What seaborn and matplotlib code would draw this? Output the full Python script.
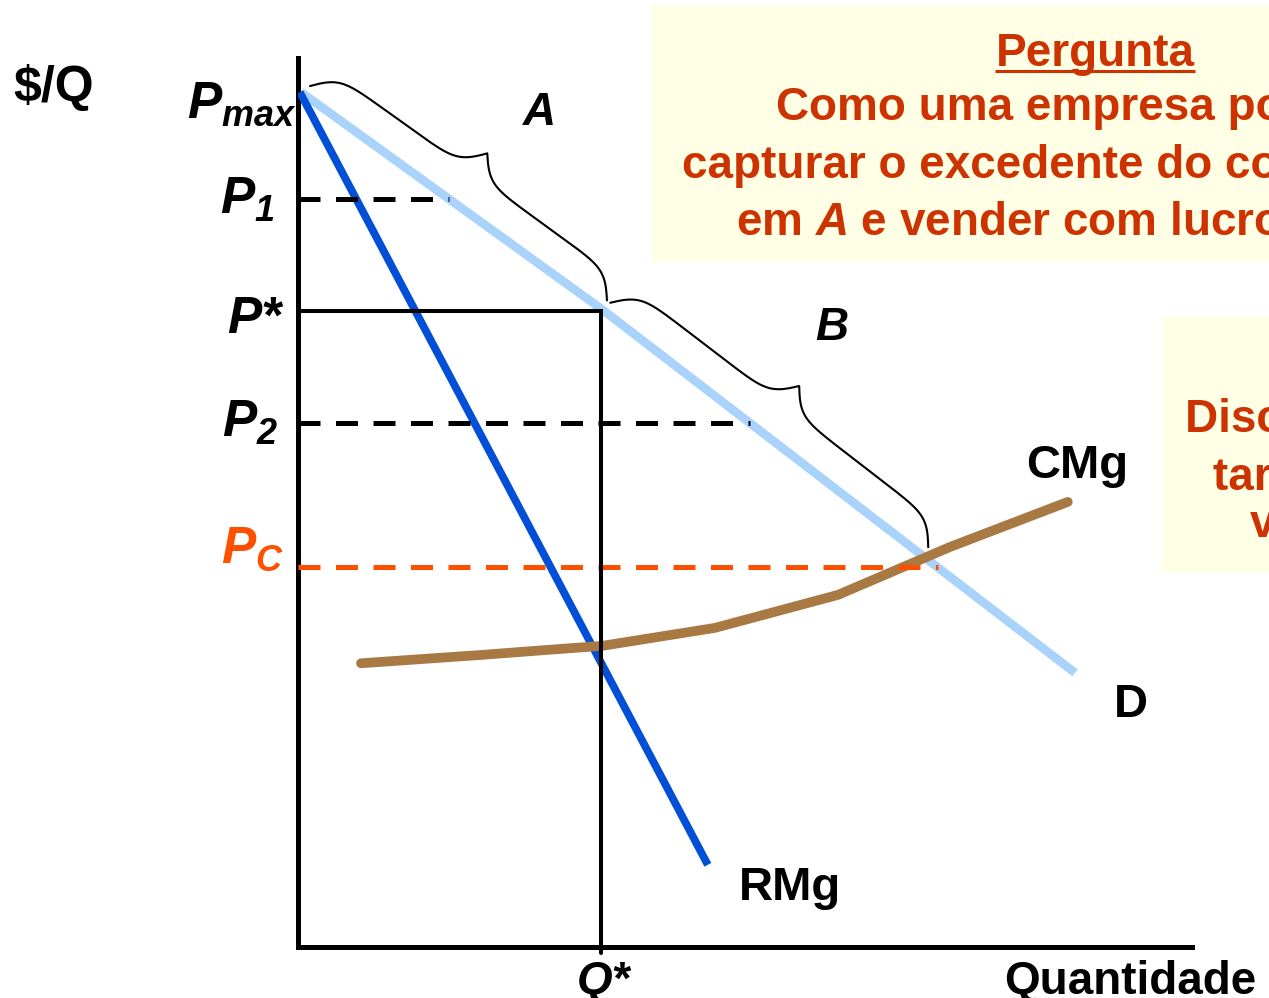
import numpy as np
import matplotlib.pyplot as plt
import seaborn as sns
from matplotlib.patches import Rectangle

# Curvas (quantidade, preço)
Q_DEMANDA = [0.05, 5.08, 12.95]
P_DEMANDA = [14.25, 10.62, 4.57]
Q_RMG = [0.03, 6.83]
P_RMG = [14.25, 1.37]
Q_CMG = [1.05, 3.07, 4.12, 5.07, 6.95, 9.0, 10.87, 12.83]
P_CMG = [4.73, 4.87, 4.95, 5.02, 5.32, 5.87, 6.67, 7.42]

# Níveis de preço e quantidade
P_MAX = 14.25
P_1 = 12.47
P_STAR = 10.6
P_2 = 8.73
P_C = 6.33
Q_STAR = 5.05
Q_FIM_B = 10.4  # fim da chave B sobre a demanda

Q_EIXO = 14.9
P_EIXO = 14.82

COR_D = '#A9D3FB'
COR_RMG = '#004FD6'
COR_CMG = '#A87942'
COR_PC = '#FF5000'
COR_TXT = '#CC3300'
COR_CAIXA = '#FFFFE6'

sns.set_theme(style='white')
plt.rcParams['font.family'] = ['Liberation Sans', 'DejaVu Sans']
plt.rcParams['font.weight'] = 'bold'
plt.rcParams['text.color'] = 'black'
# mathtext só é usado para os índices: tudo em negrito itálico
plt.rcParams['mathtext.fontset'] = 'custom'
plt.rcParams['mathtext.it'] = 'Liberation Sans:italic:bold'
plt.rcParams['mathtext.rm'] = 'Liberation Sans:italic:bold'
plt.rcParams['mathtext.bf'] = 'Liberation Sans:bold'
plt.rcParams['mathtext.default'] = 'it'


def px(x, y):
    # posição em pixels da figura -> coordenadas dos dados
    return (x - 298) / 60, (947 - y) / 60


def demanda(q):
    return np.interp(q, Q_DEMANDA, P_DEMANDA)


def q_demanda(p):
    return np.interp(p, P_DEMANDA[::-1], Q_DEMANDA[::-1])


def chave(ax, q0, q1, afast=0.17, prof=0.82, beta=6.0):
    """Chave (brace) paralela à curva de demanda entre q0 e q1."""
    p0 = np.array([q0, demanda(q0)])
    p1 = np.array([q1, demanda(q1)])
    d = p1 - p0
    L = np.hypot(*d)
    u = d / L
    n = np.array([-u[1], u[0]])
    s = np.linspace(0, L / 2, 300)
    meia = 1 / (1 + np.exp(-beta * (s - s[0]))) + 1 / (1 + np.exp(-beta * (s - s[-1]))) - 0.5
    t = np.concatenate([s, L - s[::-1][1:]])
    h = np.concatenate([meia, meia[::-1][1:]])
    pts = p0 + afast * n + np.outer(t, u) + np.outer(h * prof, n)
    ax.plot(pts[:, 0], pts[:, 1], color='black', lw=1.5, clip_on=False, zorder=6)


fig = plt.figure(figsize=(12.69, 9.98), dpi=100)
ax = fig.add_axes([298 / 1269, 51 / 998, 894 / 1269, 889 / 998])
ax.set_xlim(0, Q_EIXO)
ax.set_ylim(0, P_EIXO)
ax.set_xticks([])
ax.set_yticks([])
sns.despine(ax=ax)
for lado in ['left', 'bottom']:
    ax.spines[lado].set_linewidth(3.6)
    ax.spines[lado].set_color('black')
    ax.spines[lado].set_capstyle('projecting')

# Caixas de texto
x0, y0 = px(652, 262)
ax.add_patch(Rectangle((x0, y0), 11, 257 / 60, facecolor=COR_CAIXA,
                       edgecolor='none', clip_on=False, zorder=0))
x0, y0 = px(1162, 573)
ax.add_patch(Rectangle((x0, y0), 3, 256 / 60, facecolor=COR_CAIXA,
                       edgecolor='none', clip_on=False, zorder=0))

# Curvas
sns.lineplot(x=Q_DEMANDA, y=P_DEMANDA, ax=ax, color=COR_D, linewidth=6.3,
             estimator=None, sort=False, solid_capstyle='butt', zorder=2)
sns.lineplot(x=Q_RMG, y=P_RMG, ax=ax, color=COR_RMG, linewidth=5.6,
             estimator=None, sort=False, solid_capstyle='butt', zorder=3)
sns.lineplot(x=Q_CMG, y=P_CMG, ax=ax, color=COR_CMG, linewidth=7,
             estimator=None, sort=False, solid_capstyle='round',
             solid_joinstyle='round', zorder=4)

# Linhas de preço
for p in [P_1, P_2]:
    ax.plot([0, q_demanda(p)], [p, p], color='black', lw=3.6,
            dashes=(4.4, 3.1), zorder=5)
ax.plot([0, q_demanda(P_C)], [P_C, P_C], color=COR_PC, lw=3.6,
        dashes=(4.4, 3.1), zorder=5)
ax.plot([0, Q_STAR, Q_STAR], [P_STAR, P_STAR, -0.1], color='black', lw=2.9,
        solid_joinstyle='miter', clip_on=False, zorder=5)

# Chaves A e B
chave(ax, Q_DEMANDA[0] + 0.05, Q_STAR)
chave(ax, Q_STAR + 0.05, Q_FIM_B)

# Rótulos do eixo vertical
ax.text(*px(13, 101), '$/Q', fontsize=36, ha='left', va='baseline')
rot_p = [(r'$P_{max}$', 296, 117, 'black'),
         (r'$P_{1}$', 274, 213, 'black'),
         ('P*', 281, 333, 'black'),
         (r'$P_{2}$', 278, 436, 'black'),
         (r'$P_{C}$', 284, 563, COR_PC)]
for txt, x, y, cor in rot_p:
    ax.text(*px(x, y), txt, fontsize=37, fontstyle='italic', color=cor,
            ha='right', va='baseline')

ax.text(*px(540, 125), 'A', fontsize=33, fontstyle='italic', ha='center', va='baseline')
ax.text(*px(832, 340), 'B', fontsize=33, fontstyle='italic', ha='center', va='baseline')
ax.text(*px(1077, 478), 'CMg', fontsize=34, ha='center', va='baseline')
ax.text(*px(1131, 717), 'D', fontsize=34, ha='center', va='baseline')
ax.text(*px(790, 900), 'RMg', fontsize=34, ha='center', va='baseline')
ax.text(*px(604, 994), 'Q*', fontsize=33, fontstyle='italic', ha='center', va='baseline')
ax.text(*px(1004, 994), 'Quantidade', fontsize=33, ha='left', va='baseline')

# Texto da pergunta
t_perg = ax.text(*px(1095, 66), 'Pergunta', fontsize=33, color=COR_TXT,
                 ha='center', va='baseline')
linhas = ['Como uma empresa poderia',
          'capturar o excedente do consumidor',
          r'em $A$ e vender com lucro em $B$?']
for linha, y in zip(linhas, [120, 178, 235]):
    ax.text(*px(1085, y), linha, fontsize=33, color=COR_TXT,
            ha='center', va='baseline')

# Texto da resposta (cortado pela borda)
resposta = [('Discriminação de preços,', 1185, 432),
            ('tarifas em duas partes e', 1213, 490),
            ('venda casada', 1250, 537)]
for linha, x, y in resposta:
    ax.text(*px(x, y), linha, fontsize=33, color=COR_TXT, ha='left', va='baseline')

# Sublinhado de "Pergunta"
fig.canvas.draw()
bb = t_perg.get_window_extent()
inv = ax.transData.inverted()
(ux0, _), (ux1, _) = inv.transform([[bb.x0, bb.y0], [bb.x1, bb.y0]])
uy = px(0, 71)[1]
ax.plot([ux0, ux1], [uy, uy], color=COR_TXT, lw=2.2, clip_on=False,
        solid_capstyle='butt')

fig.savefig('out.png', dpi=100)
